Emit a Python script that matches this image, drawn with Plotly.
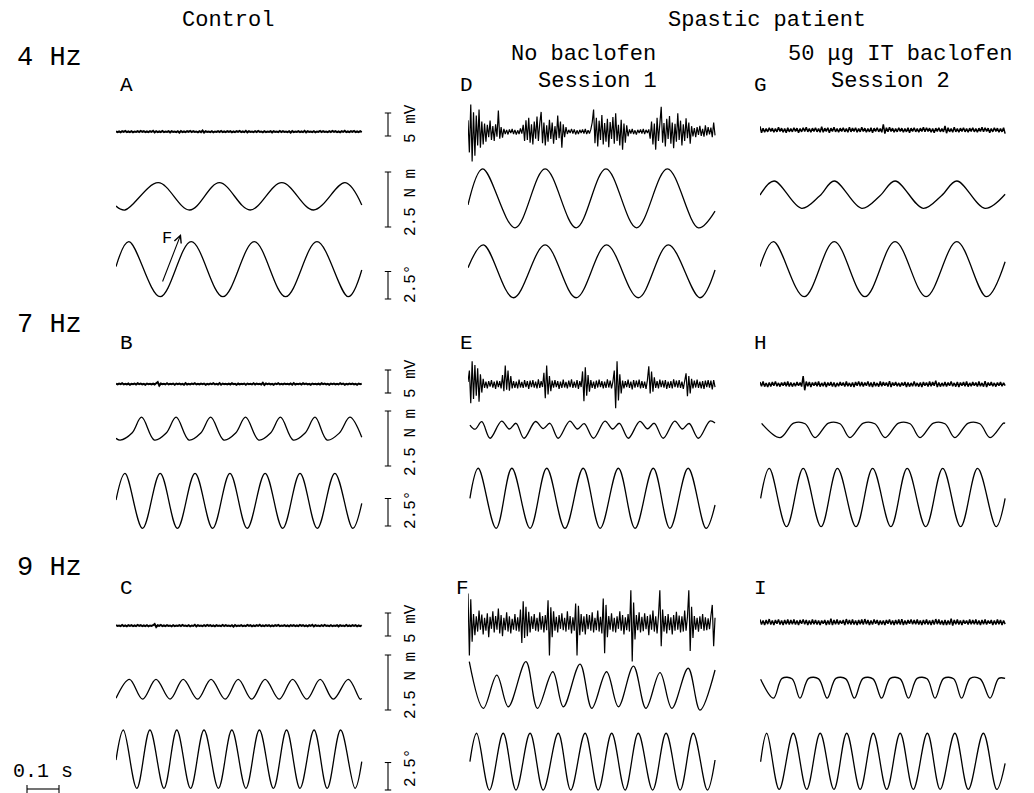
import numpy as np
import plotly.graph_objects as go

# ---------------- data ----------------
# time: ms from sweep start; EMG: mV; torque: N m; angle: deg
sweep_ms = {'ctrl': 768, 'nobac': 772, 'bac': 766}

emg_A = [0.1,-0.1,0.05,-0.15,0.1,-0.05,0.15,-0.1,0.05,-0.1,0.1,-0.15,0.05,-0.05,0.1,-0.1,0.15,-0.05,0.1,-0.1,
         0.05,-0.1,0.1,-0.05,0.2,-0.15,0.1,-0.1,0.05,-0.1,0.15,-0.1,0.05,-0.05,0.1,-0.15,0.1,-0.05,0.05,-0.1,
         0.1,-0.2,0.15,-0.1,0.05,-0.1,0.1,-0.05,0.15,-0.1,0.1,-0.05,0.05,-0.15,0.1,-0.1,0.25,-0.2,0.1,-0.05,
         0.05,-0.1,0.1,-0.15,0.05,-0.05,0.1,-0.1,0.15,-0.1,0.05,-0.1,0.1,-0.05,0.1,-0.15,0.05,-0.1,0.1,-0.05,
         0.15,-0.1,0.05,-0.1,0.2,-0.15,0.1,-0.05,0.05,-0.1,0.1,-0.1,0.15,-0.05,0.05,-0.15,0.1,-0.1,0.05,-0.05,
         0.1,-0.15,0.1,-0.05,0.05,-0.1,0.15,-0.1,0.1,-0.05,0.05,-0.1,0.1,-0.2,0.15,-0.1,0.05,-0.05,0.1,-0.1,
         0.05,-0.1,0.2,-0.15,0.1,-0.05,0.05,-0.1,0.1,-0.15,0.05,-0.05,0.15,-0.1,0.1,-0.05,0.05,-0.1,0.1,-0.1,
         0.15,-0.05,0.1,-0.1,0.05,-0.15,0.1,-0.05,0.2,-0.1,0.05,-0.1,0.1,-0.05,0.15,-0.1,0.05,-0.1,0.1,-0.1]
emg_B = [0.05,-0.1,0.1,-0.05,0.15,-0.1,0.05,-0.1,0.1,-0.15,0.05,-0.05,0.1,-0.1,0.15,-0.05,0.1,-0.1,0.05,-0.15,
         0.1,-0.05,0.05,-0.1,0.1,-0.1,0.15,0.4,-0.35,0.1,-0.05,0.05,-0.1,0.15,-0.1,0.05,-0.05,0.1,-0.15,0.1,
         -0.05,0.1,-0.1,0.05,-0.15,0.2,-0.1,0.05,-0.1,0.1,-0.05,0.15,-0.1,0.05,-0.1,0.1,-0.05,0.1,-0.15,0.05,
         -0.1,0.1,-0.05,0.15,-0.1,0.05,-0.1,0.2,-0.15,0.1,-0.05,0.05,-0.1,0.1,-0.1,0.15,-0.05,0.05,-0.15,0.1,
         -0.1,0.05,-0.05,0.1,-0.15,0.1,-0.05,0.05,-0.1,0.15,-0.1,0.1,-0.05,0.05,-0.1,0.25,-0.2,0.1,-0.05,0.1,
         -0.1,0.05,-0.15,0.1,-0.05,0.15,-0.1,0.05,-0.1,0.1,-0.05,0.05,-0.1,0.1,-0.15,0.2,-0.1,0.05,-0.05,0.1,
         -0.1,0.15,-0.05,0.1,-0.1,0.05,-0.15,0.1,-0.05,0.05,-0.1,0.1,-0.1,0.15,-0.05,0.1,-0.1,0.05,-0.15,0.1,
         -0.05,0.1,-0.1,0.05,-0.1,0.15,-0.05,0.1,-0.15,0.05,-0.1,0.1,-0.05,0.1,-0.1,0.05,-0.15,0.1,-0.05,0.1]
emg_C = [0.1,-0.05,0.05,-0.1,0.15,-0.1,0.05,-0.15,0.1,-0.05,0.1,-0.1,0.05,-0.1,0.15,-0.05,0.1,-0.1,0.05,-0.1,
         0.1,-0.15,0.05,-0.05,0.1,0.35,-0.3,0.1,-0.05,0.15,-0.1,0.05,-0.1,0.1,-0.05,0.05,-0.15,0.1,-0.1,0.05,
         -0.05,0.1,-0.1,0.15,-0.05,0.05,-0.1,0.1,-0.15,0.05,-0.05,0.2,-0.15,0.1,-0.05,0.05,-0.1,0.1,-0.1,0.15,
         -0.05,0.1,-0.1,0.05,-0.15,0.1,-0.05,0.05,-0.1,0.15,-0.1,0.1,-0.05,0.05,-0.1,0.1,-0.2,0.15,-0.1,0.05,
         -0.05,0.1,-0.1,0.05,-0.1,0.15,-0.05,0.1,-0.15,0.05,-0.1,0.1,-0.05,0.2,-0.1,0.05,-0.1,0.1,-0.05,0.1,
         -0.15,0.05,-0.1,0.1,-0.05,0.15,-0.1,0.05,-0.05,0.1,-0.1,0.05,-0.15,0.1,-0.05,0.1,-0.1,0.05,-0.1,0.15,
         -0.05,0.1,-0.1,0.05,-0.15,0.1,-0.05,0.2,-0.15,0.1,-0.05,0.05,-0.1,0.1,-0.1,0.15,-0.05,0.05,-0.1,0.1,
         -0.1,0.05,-0.05,0.1,-0.15,0.1,-0.05,0.05,-0.1,0.15,-0.1,0.05,-0.1,0.1,-0.05,0.1,-0.15,0.05,-0.1,0.1]
emg_D = [2.5,-4.5,5.9,-6.5,4.2,-5.2,3.5,-3.0,4.8,-3.5,2.2,-2.8,
         1.8,-2.2,1.5,-1.2,2.4,-1.8,1.2,-2.0,1.6,-1.1,4.6,-1.5,1.0,-1.3,
         0.6,-0.5,0.4,-0.6,0.5,-0.3,0.6,-0.5,0.4,-0.6,0.3,-0.5,0.7,-0.4,
         1.5,-2.0,2.5,-1.8,3.0,-2.4,1.6,-2.8,2.2,-1.5,3.3,-2.0,1.8,4.3,-2.5,2.0,-3.0,1.4,-2.2,2.6,
         -1.6,2.0,-2.6,1.2,-1.8,3.5,-1.4,2.2,-3.5,1.6,-1.2,1.0,
         -0.5,0.4,-0.3,0.6,-0.4,0.5,-0.6,0.3,-0.5,0.4,-0.3,0.5,-0.4,0.6,-0.5,0.3,-0.4,0.5,
         2.0,4.8,-2.5,3.0,-3.2,2.4,-1.8,3.6,-2.8,1.9,-2.2,2.8,-3.4,2.1,-1.6,3.2,-2.6,4.0,-2.0,1.5,
         -3.0,2.6,-3.9,1.8,-2.4,1.4,-1.0,
         0.5,-0.4,0.6,-0.5,0.3,-0.6,0.4,-0.3,0.5,-0.4,0.6,-0.5,0.4,-0.3,0.5,
         -1.5,2.2,-2.8,1.8,-3.9,3.0,-2.0,2.6,5.4,-2.4,1.9,-3.2,2.8,-1.6,3.4,-2.6,2.0,-3.6,1.7,-2.2,
         4.0,-1.8,2.4,-3.0,1.6,-2.0,2.9,-1.4,2.0,-2.6,1.2,
         -1.0,0.8,-1.2,1.0,-0.7,1.3,-0.9,0.6,-1.1,1.4,-0.8,1.0,-0.6,0.9,-1.2,2.0,-0.8]
emg_E = [0.5,
         3.0,-4.1,5.0,-3.2,4.2,-2.5,3.5,-3.8,2.2,-1.8,1.2,
         -0.8,0.6,-0.9,0.7,-0.5,0.9,-0.7,0.6,-1.0,0.8,-0.6,0.7,-0.9,
         2.0,-1.5,4.1,-1.2,3.0,-1.4,1.8,-0.9,
         0.7,-0.8,0.6,-0.9,1.0,-0.7,0.5,-0.8,0.9,-0.6,0.7,-1.0,0.8,-0.6,0.9,-0.7,0.6,-0.9,1.1,-0.8,0.7,-0.6,
         2.5,-3.0,4.1,-2.2,1.8,-1.5,
         0.8,-0.7,0.9,-0.6,0.7,-1.0,0.6,-0.8,1.0,-0.7,0.5,-0.9,0.8,-0.6,1.1,-0.8,0.6,-0.7,0.9,-1.0,0.7,-0.6,
         2.8,-3.7,3.7,-2.5,2.0,-1.6,
         0.9,-0.8,0.6,-1.0,0.8,-0.7,1.0,-0.6,0.7,-0.9,0.6,-0.8,1.1,-0.7,0.8,-0.9,0.6,
         3.0,-5.2,5.0,-3.5,2.2,-2.0,
         0.8,-0.9,0.7,-0.6,1.0,-0.8,0.6,-1.1,0.9,-0.7,0.8,-0.6,1.0,-0.9,0.7,-0.8,0.6,-1.0,0.9,
         3.9,-2.0,2.8,-1.6,1.5,
         -0.8,0.7,-0.9,1.0,-0.6,0.8,-0.7,0.9,-1.0,0.6,-0.8,0.7,-0.9,1.1,-0.6,0.8,-0.7,0.9,-0.8,0.6,-1.0,0.7,
         2.4,-2.6,1.8,-2.0,1.2,
         -0.9,0.8,-0.7,1.0,-0.8,0.6,-0.9,0.7,-1.0,0.8,-0.6,0.9,-0.7,0.8,-1.1,0.9,-0.6]
emg_F = [6.5,-7.0,5.2,-4.0,
         2.0,-2.6,1.5,-1.8,2.8,-1.4,1.9,-2.4,1.2,-1.6,2.2,-3.0,1.4,-1.2,2.6,-2.0,1.6,-1.4,3.2,-2.2,
         1.8,-2.8,1.2,-1.5,2.4,-1.8,1.5,-2.2,1.0,-1.4,2.0,-1.6,1.3,-1.8,
         3.0,-4.3,4.8,-3.2,3.6,-2.8,2.5,-2.0,
         1.5,-1.2,2.0,-1.6,1.2,-1.8,2.4,-1.4,1.6,-2.0,1.8,-1.5,
         5.0,-7.0,3.5,-3.0,2.6,
         -1.6,1.4,-2.0,1.8,-1.2,2.2,-1.5,1.2,-1.8,2.6,-1.4,1.6,-2.2,1.3,-1.6,
         4.3,-7.0,3.8,-2.6,2.0,
         -1.8,1.5,-2.4,2.0,-1.3,1.8,-1.6,2.4,-2.0,1.2,-1.5,2.8,-1.8,1.4,-2.2,
         5.4,-6.5,4.0,-3.0,
         1.6,-1.4,2.2,-1.8,1.2,-2.0,1.5,-1.2,2.6,-1.6,1.8,-2.4,1.3,-1.5,2.0,-1.8,
         7.2,-8.3,4.5,-3.5,
         1.8,-1.5,2.4,-2.0,1.4,-1.7,2.2,-1.3,1.6,-2.6,1.9,-1.4,2.8,-1.8,1.5,-2.2,1.6,
         7.2,-5.0,3.0,
         -1.8,1.6,-2.2,2.0,-1.5,1.3,-2.4,1.8,-1.6,2.5,-1.4,1.7,-2.0,1.5,-1.8,2.8,-1.6,1.4,
         7.2,-6.0,3.6,-3.2,
         1.6,-1.4,1.2,-1.8,1.5,-1.2,2.0,-1.6,1.3,-1.5,1.1,-1.3,1.6,4.0,-5.0,1.2]
emg_G = [0.8,-0.6,0.4,-0.5,0.3,-0.4,0.5,-0.3,0.4,-0.5,0.3,-0.4,0.6,-0.3,0.4,-0.5,0.3,-0.6,0.5,-0.4,
         0.3,-0.4,0.5,-0.3,0.4,-0.6,0.3,-0.4,0.5,-0.3,0.6,-0.4,0.3,-0.5,0.4,-0.3,0.5,-0.4,0.3,-0.5,
         0.7,-0.5,0.4,-0.3,0.5,-0.6,0.4,-0.3,0.6,-0.4,0.3,-0.5,0.4,-0.3,0.5,-0.4,0.3,-0.5,0.6,-0.4,
         0.4,-0.3,0.5,-0.5,0.3,-0.4,0.6,-0.3,0.4,-0.5,0.3,-0.4,0.5,-0.6,0.4,-0.3,0.5,-0.4,0.3,-0.5,
         1.2,-0.8,0.5,-0.4,0.6,-0.3,0.4,-0.5,0.3,-0.4,0.5,-0.3,0.4,-0.5,0.3,-0.4,0.5,-0.6,0.4,-0.3,
         0.5,-0.4,0.3,-0.5,0.4,-0.3,0.6,-0.4,0.5,-0.3,0.4,-0.5,0.3,-0.6,0.4,-0.3,0.5,-0.4,0.3,-0.4,
         0.9,-0.7,0.5,-0.4,0.3,-0.5,0.6,-0.4,0.3,-0.5,0.4,-0.3,0.5,-0.4,0.3,-0.5,0.4,-0.3,0.5,-0.4,
         0.3,-0.5,0.4,-0.3,0.6,-0.4,0.5,-0.3,0.4,-0.6,0.3,-0.4,0.5,-0.3,0.4,-0.5,0.3,-0.4,0.5,-0.8]
emg_H = [0.5,-0.4,0.6,-0.5,0.3,-0.6,0.4,-0.5,0.5,-0.3,0.6,-0.4,0.3,-0.5,0.4,-0.3,0.5,-0.4,0.6,-0.5,
         0.4,-0.5,0.3,-0.4,0.5,-0.3,0.4,-0.5,1.8,-1.3,0.6,-0.4,0.5,-0.6,0.4,-0.3,0.5,-0.4,0.6,-0.5,
         0.3,-0.4,0.5,-0.6,0.4,-0.3,0.5,-0.5,0.4,-0.6,0.3,-0.4,0.5,-0.3,0.4,-0.5,0.6,-0.4,0.3,-0.5,
         0.4,-0.6,0.5,-0.3,0.6,-0.4,0.5,-0.5,0.4,-0.3,0.6,-0.5,0.4,-0.6,0.5,-0.4,0.3,-0.5,0.6,-0.4,
         0.5,-0.3,0.4,-0.5,0.7,-0.6,0.4,-0.3,0.5,-0.4,0.3,-0.5,0.4,-0.3,0.5,-0.6,0.4,-0.5,0.3,-0.4,
         0.6,-0.4,0.3,-0.5,0.4,-0.6,0.5,-0.3,0.4,-0.5,0.6,-0.4,0.5,-0.3,0.8,-0.6,0.4,-0.5,0.3,-0.4,
         0.5,-0.5,0.4,-0.3,0.6,-0.4,0.3,-0.5,0.5,-0.6,0.4,-0.3,0.5,-0.4,0.6,-0.5,0.3,-0.4,0.5,-0.3,
         0.4,-0.5,0.6,-0.4,0.3,-0.5,0.7,-0.6,0.4,-0.3,0.5,-0.4,0.3,-0.5,0.4,-0.3,0.5,-0.4,0.3,-0.3]
emg_I = [0.6,-0.5,0.4,-0.6,0.5,-0.4,0.7,-0.5,0.4,-0.6,0.5,-0.3,0.6,-0.5,0.4,-0.6,0.5,-0.4,0.6,-0.5,
         0.5,-0.4,0.6,-0.5,0.4,-0.6,0.5,-0.3,0.6,-0.4,0.5,-0.6,0.4,-0.5,0.6,-0.4,0.5,-0.5,0.4,-0.6,
         0.4,-0.3,0.5,-0.6,0.4,-0.5,0.8,-0.6,0.5,-0.4,0.6,-0.5,0.4,-0.3,0.5,-0.6,0.7,-0.4,0.5,-0.5,
         0.6,-0.5,0.4,-0.6,0.5,-0.4,0.6,-0.5,0.7,-0.4,0.5,-0.6,0.4,-0.5,0.6,-0.3,0.5,-0.6,0.4,-0.5,
         0.4,-0.6,0.5,-0.3,0.6,-0.5,0.4,-0.6,0.5,-0.4,0.6,-0.5,0.7,-0.6,0.4,-0.5,0.5,-0.3,0.6,-0.4,
         0.5,-0.4,0.6,-0.5,0.4,-0.6,0.5,-0.4,0.6,-0.5,0.4,-0.6,0.5,-0.5,0.7,-0.4,0.6,-0.5,0.4,-0.6,
         0.5,-0.6,0.4,-0.5,0.8,-0.7,0.5,-0.4,0.6,-0.5,0.4,-0.6,0.5,-0.3,0.4,-0.5,0.6,-0.4,0.5,-0.4,
         0.6,-0.5,0.4,-0.6,0.5,-0.4,0.6,-0.5,0.4,-0.3,0.5,-0.6,0.4,-0.5,0.6,-0.4,0.5,-0.6,0.4,-0.4]

# torque / angle: turning points (ms, value)
torque_A_t = [0, 28, 132, 230, 323, 419, 518, 617, 716, 768]
torque_A_v = [-0.44, -0.62, 0.62, -0.62, 0.62, -0.62, 0.62, -0.62, 0.62, -0.39]
angle_A_t = [0, 40, 138, 235, 334, 432, 530, 628, 726, 768]
angle_A_v = [0.23, 2.5, -2.5, 2.5, -2.5, 2.5, -2.5, 2.5, -2.5, -0.07]

torque_D_t = [0, 46, 147, 241, 338, 431, 527, 623, 720, 772]
torque_D_v = [-0.30, 1.34, -1.34, 1.34, -1.34, 1.34, -1.34, 1.34, -1.34, -0.58]
angle_D_t = [0, 48, 142, 241, 338, 433, 532, 626, 725, 772]
angle_D_v = [0.33, 2.4, -2.4, 2.4, -2.4, 2.4, -2.4, 2.4, -2.4, 0.12]

torque_G_t = [0, 44, 130, 187, 232, 318, 375, 422, 510, 567, 615, 703, 766]
torque_G_v = [-0.02, 0.62, -0.62, -0.05, 0.62, -0.62, -0.05, 0.62, -0.62, -0.05, 0.62, -0.62, 0.02]
angle_G_t = [0, 42, 138, 232, 328, 422, 519, 615, 708, 766]
angle_G_v = [0.23, 2.5, -2.5, 2.5, -2.5, 2.5, -2.5, 2.5, -2.5, 0.68]

torque_B_t = [0, 13, 50, 80, 120, 157, 188, 228, 265, 296, 337, 374, 405, 446, 483, 514, 554, 591, 622, 660, 698, 731, 768]
torque_B_v = [-0.44, -0.52, -0.2, 0.52, -0.52, -0.2, 0.52, -0.52, -0.2, 0.52, -0.52, -0.2, 0.52,
              -0.52, -0.2, 0.52, -0.52, -0.2, 0.52, -0.52, -0.2, 0.52, -0.39]
angle_B_t = [0, 28, 83, 138, 192, 247, 302, 356, 410, 466, 521, 575, 629, 684, 740, 768]
angle_B_v = [0.07, 2.5, -2.5, 2.5, -2.5, 2.5, -2.5, 2.5, -2.5, 2.5, -2.5, 2.5, -2.5, 2.5, -2.5, -0.23]

torque_E_t = [6, 22, 43, 69, 105, 129, 150, 175, 211, 235, 256, 282, 318, 342, 363, 392,
              428, 452, 473, 501, 537, 561, 582, 610, 646, 670, 691, 720, 756, 772]
torque_E_v = [0.21, 0.02, 0.36, -0.39, 0.39, 0.03, 0.29, -0.39, 0.37, 0.05, 0.29, -0.39, 0.39, 0.03, 0.27, -0.39,
              0.39, 0.03, 0.29, -0.39, 0.38, 0.04, 0.29, -0.39, 0.39, 0.03, 0.28, -0.39, 0.39, 0.30]
angle_E_t = [6, 32, 88, 137, 194, 246, 303, 360, 413, 470, 522, 579, 631, 688, 744, 772]
angle_E_v = [0.0, 2.73, -2.73, 2.73, -2.73, 2.73, -2.73, 2.73, -2.73, 2.73, -2.73, 2.73, -2.73, 2.73, -2.73, -0.61]

torque_H_t = [5, 63, 105, 141, 172, 214, 250, 281, 323, 359, 391, 433, 469, 500, 542, 578, 609, 651, 687, 719, 761, 766]
torque_H_v = [0.32, -0.33, 0.33, 0.30, -0.33, 0.33, 0.30, -0.33, 0.33, 0.30, -0.33, 0.33, 0.30, -0.33,
              0.33, 0.30, -0.33, 0.33, 0.30, -0.33, 0.33, 0.32]
angle_H_t = [2, 29, 83, 135, 191, 242, 300, 352, 409, 460, 518, 571, 627, 680, 738, 766]
angle_H_v = [-0.07, 2.65, -2.65, 2.65, -2.65, 2.65, -2.65, 2.65, -2.65, 2.65, -2.65, 2.65, -2.65, 2.65, -2.65, -0.07]

torque_C_t = [0, 42, 83, 125, 169, 210, 255, 297, 341, 382, 424, 466, 510, 552, 596, 638, 679, 726, 763, 768]
torque_C_v = [-0.41, 0.45, -0.45, 0.45, -0.45, 0.45, -0.45, 0.45, -0.45, 0.45, -0.45, 0.45, -0.45, 0.45,
              -0.45, 0.45, -0.45, 0.45, -0.45, -0.41]
angle_C_t = [0, 23, 65, 106, 150, 190, 233, 275, 320, 362, 406, 448, 492, 533, 575, 619, 660, 702, 747, 768]
angle_C_v = [-0.08, 2.65, -2.65, 2.65, -2.65, 2.65, -2.65, 2.65, -2.65, 2.65, -2.65, 2.65, -2.65, 2.65,
             -2.65, 2.65, -2.65, 2.65, -2.65, -0.23]

torque_F_t = [4, 48, 90, 126, 181, 217, 265, 298, 350, 387, 433, 470, 517, 556, 600, 637, 688, 725, 772]
torque_F_v = [1.10, -1.02, 0.49, -0.95, 1.10, -1.02, 0.64, -0.95, 0.99, -1.02, 0.64, -0.95, 0.90, -1.02,
              0.60, -1.02, 0.80, -1.10, 0.72]
angle_F_t = [6, 27, 67, 110, 150, 194, 235, 282, 321, 366, 407, 449, 491, 532, 577, 619, 663, 704, 748, 772]
angle_F_v = [0.0, 2.58, -2.58, 2.58, -2.58, 2.58, -2.58, 2.58, -2.58, 2.58, -2.58, 2.58, -2.58, 2.58,
             -2.58, 2.58, -2.58, 2.58, -2.58, 0.15]

torque_I_t = [2, 42, 69, 100, 125, 152, 183, 210, 237, 268, 295, 322, 353, 380, 407, 438, 464,
              491, 522, 547, 574, 605, 630, 657, 688, 719, 746, 766]
torque_I_v = [0.41, -0.45, 0.45, 0.43, -0.45, 0.45, 0.43, -0.45, 0.45, 0.43, -0.45, 0.45, 0.43, -0.45,
              0.45, 0.43, -0.45, 0.45, 0.43, -0.45, 0.45, 0.43, -0.45, 0.45, 0.43, -0.45, 0.45, 0.45]
angle_I_t = [2, 21, 60, 104, 146, 188, 231, 271, 313, 354, 396, 438, 479, 523, 563, 609, 651, 698, 740, 766]
angle_I_v = [-0.04, 2.55, -2.55, 2.55, -2.55, 2.55, -2.55, 2.55, -2.55, 2.55, -2.55, 2.55, -2.55, 2.55,
             -2.55, 2.55, -2.55, 2.55, -2.55, -0.18]

scale_emg_mV = 5
scale_torque_Nm = 2.5
scale_angle_deg = 2.5
scale_time_ms = 100

row_labels = ['4 Hz', '7 Hz', '9 Hz']
panel_letters = [['A', 'D', 'G'], ['B', 'E', 'H'], ['C', 'F', 'I']]
scale_texts = ['5 mV', '2.5 N m', '2.5\u00b0']

# ---------------- layout geometry (pixels) ----------------
W, H = 1034, 793
MS_PX = 0.32                     # px per ms
PXU = {'emg': 4.6, 'torque': 22.0, 'angle': 11.0}   # px per unit
COLS = {'ctrl': (116, 436), 'nobac': (468, 768), 'bac': (760, 1034)}
FONT = 'Liberation Mono, Courier New, monospace'

fig = go.Figure()
layout = {}
count = [0]


def new_axes(col, yc, s, band=46):
    count[0] += 1
    k = count[0]
    sx = '' if k == 1 else str(k)
    x0, x1 = COLS[col] if isinstance(col, str) else col
    ytop = max(0.0, yc - band)
    ybot = min(float(H), yc + band)
    layout['xaxis' + sx] = dict(domain=[x0 / W, x1 / W], range=[0, (x1 - x0) / MS_PX],
                                visible=False, fixedrange=True)
    layout['yaxis' + sx] = dict(domain=[1 - ybot / H, 1 - ytop / H],
                                range=[(yc - ybot) / s, (yc - ytop) / s],
                                visible=False, fixedrange=True)
    return 'x' + sx, 'y' + sx


def line(xa, ya, t, v, shape='linear', width=1.3):
    fig.add_trace(go.Scatter(x=t, y=v, mode='lines', xaxis=xa, yaxis=ya,
                             line=dict(color='black', width=width, shape=shape),
                             hoverinfo='skip', showlegend=False))


G = globals()
panels = [
    ('A', 'ctrl', 131.7, 196.35, 269.2), ('D', 'nobac', 131.7, 198.3, 271.35), ('G', 'bac', 130.0, 194.65, 269.2),
    ('B', 'ctrl', 384.0, 428.65, 500.8), ('E', 'nobac', 384.3, 429.65, 498.3), ('H', 'bac', 384.3, 430.35, 497.5),
    ('C', 'ctrl', 625.7, 689.3, 759.15), ('F', 'nobac', 623.3, 685.85, 761.65), ('I', 'bac', 622.3, 688.3, 761.3),
]
emg_width = {'A': 2.0, 'B': 2.0, 'C': 2.0, 'G': 1.5, 'H': 1.5, 'I': 1.5, 'D': 1.2, 'E': 1.2, 'F': 1.2}
ctrl_axes = {}
for name, col, yc_e, yc_t, yc_a in panels:
    emg = G['emg_' + name]
    xa, ya = new_axes(col, yc_e, PXU['emg'])
    line(xa, ya, np.linspace(0, sweep_ms[col], len(emg)), emg, width=emg_width[name])
    xt, yt = new_axes(col, yc_t, PXU['torque'])
    line(xt, yt, G['torque_%s_t' % name], G['torque_%s_v' % name], shape='spline')
    xg, yg = new_axes(col, yc_a, PXU['angle'])
    line(xg, yg, G['angle_%s_t' % name], G['angle_%s_v' % name], shape='spline')
    if col == 'ctrl':
        ctrl_axes[name] = [(xa, ya, yc_e, 'emg'), (xt, yt, yc_t, 'torque'), (xg, yg, yc_a, 'angle')]

# ---------------- calibration bars ----------------
bar_t = (388 - 116) / MS_PX
cap = 10
bar_bottom_px = {'A': [136, 227, 299], 'B': [393, 466, 526], 'C': [636, 710, 790]}
label_mid_px = {'A': [124, 203, 284], 'B': [379, 443, 510], 'C': [624, 686, 768]}
lengths = [scale_emg_mV, scale_torque_Nm, scale_angle_deg]
annotations = []
for name in ['A', 'B', 'C']:
    for i, (xa, ya, yc, kind) in enumerate(ctrl_axes[name]):
        s = PXU[kind]
        v0 = (yc - bar_bottom_px[name][i]) / s
        v1 = v0 + lengths[i]
        line(xa, ya, [bar_t - cap, bar_t + cap, None, bar_t, bar_t, None, bar_t - cap, bar_t + cap],
             [v0, v0, None, v0, v1, None, v1, v1], width=1.1)
        annotations.append(dict(x=411 / W, y=1 - label_mid_px[name][i] / H, xref='paper', yref='paper',
                                text=scale_texts[i], textangle=-90, showarrow=False,
                                xanchor='center', yanchor='middle',
                                font=dict(family=FONT, size=16, color='black')))

# time bar
xa, ya = new_axes((0, 116), 789, 1.0, band=8)
t0 = 27 / MS_PX
line(xa, ya, [t0, t0 + scale_time_ms, None, t0, t0, None, t0 + scale_time_ms, t0 + scale_time_ms],
     [0, 0, None, -4, 4, None, -4, 4], width=1.1)


def text(x, y, s, size):
    annotations.append(dict(x=x / W, y=1 - y / H, xref='paper', yref='paper', text=s, showarrow=False,
                            xanchor='center', yanchor='middle', font=dict(family=FONT, size=size, color='black')))


text(43, 771, '0.1 s', 20)
text(228, 20, 'Control', 22)
text(767, 20, 'Spastic patient', 22)
text(583, 54, 'No baclofen', 22)
text(597, 81, 'Session 1', 22)
text(900, 54, '50 \u03bcg IT baclofen', 22)
text(890, 81, 'Session 2', 22)
for r, yrow in enumerate([58, 325, 568]):
    text(49, yrow, row_labels[r], 27)
letter_pos = [[(126, 86), (466, 86), (760, 86)], [(126, 343), (466, 343), (760, 343)],
              [(126, 588), (462, 588), (760, 588)]]
for r in range(3):
    for c in range(3):
        x, y = letter_pos[r][c]
        text(x, y, panel_letters[r][c], 21)

# force arrow in panel A
annotations.append(dict(x=181 / W, y=1 - 234 / H, xref='paper', yref='paper', ax=-19, ay=49,
                        showarrow=True, arrowhead=5, arrowsize=1.3, arrowwidth=1.1, arrowcolor='black', text=''))
text(167, 238, 'F', 17)

fig.update_layout(**layout)
fig.update_layout(width=W, height=H, margin=dict(l=0, r=0, t=0, b=0), paper_bgcolor='white',
                  plot_bgcolor='rgba(0,0,0,0)', showlegend=False, annotations=annotations)
fig.write_html('out.html', config={'displayModeBar': False},
               post_script="document.body.style.margin='0px'; document.body.style.overflow='hidden';")
